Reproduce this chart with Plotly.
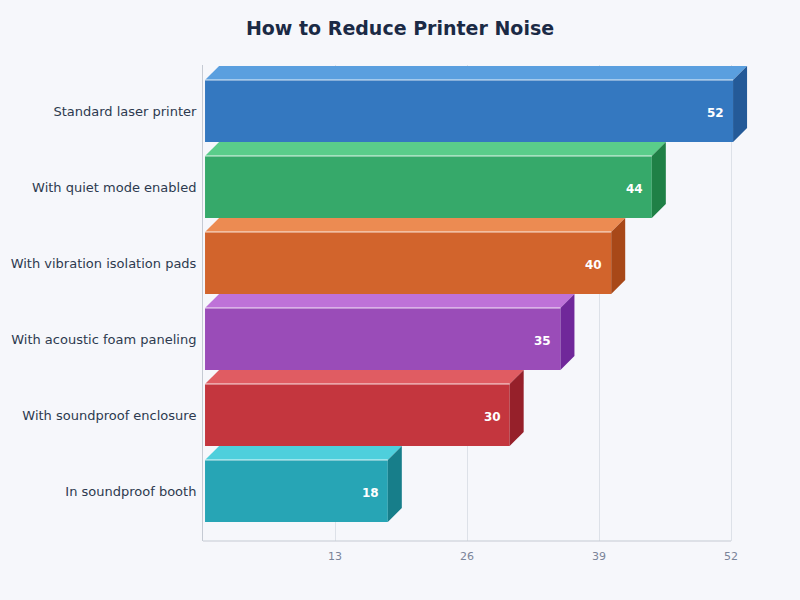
import plotly.graph_objects as go

# data (top to bottom as shown)
categories = [
    "Standard laser printer",
    "With quiet mode enabled",
    "With vibration isolation pads",
    "With acoustic foam paneling",
    "With soundproof enclosure",
    "In soundproof booth",
]
noise_db = [52, 44, 40, 35, 30, 18]
x_ticks = [13, 26, 39, 52]

front_colors = ["#3478c0", "#36a96a", "#d2642c", "#9a4cb8", "#c4363e", "#27a5b5"]
top_colors = ["#5a9fdf", "#5acd8a", "#ec8b52", "#be72d8", "#e05c62", "#4ecfdc"]
side_colors = ["#245a98", "#1f8046", "#a84818", "#70289a", "#96202a", "#177e8a"]

BG = "#f6f7fb"
BAR_W = 0.816     # bar thickness in category units
BASE = 0.2        # small gap between axis line and bars
DX = 1.38         # depth of 3d face, x units
DY = 0.184        # depth of 3d face, y units

n = len(categories)
ypos = [n - 1 - i for i in range(n)]

fig = go.Figure()
fig.add_trace(go.Bar(
    x=noise_db,
    y=ypos,
    base=BASE,
    orientation="h",
    width=BAR_W,
    marker=dict(color=front_colors, line=dict(width=0)),
    hoverinfo="skip",
))

shapes = []
annotations = []
for i, v in enumerate(noise_db):
    y = ypos[i]
    x0, x1 = BASE, BASE + v
    yt, yb = y + BAR_W / 2, y - BAR_W / 2
    # top face
    shapes.append(dict(
        type="path", xref="x", yref="y", layer="above",
        path=f"M {x0},{yt} L {x0 + DX},{yt + DY} L {x1 + DX},{yt + DY} L {x1},{yt} Z",
        fillcolor=top_colors[i], line=dict(width=0),
    ))
    # side face
    shapes.append(dict(
        type="path", xref="x", yref="y", layer="above",
        path=f"M {x1},{yt} L {x1 + DX},{yt + DY} L {x1 + DX},{yb + DY} L {x1},{yb} Z",
        fillcolor=side_colors[i], line=dict(width=0),
    ))
    # highlight edge
    shapes.append(dict(
        type="line", xref="x", yref="y", layer="above",
        x0=x0, x1=x1, y0=yt, y1=yt,
        line=dict(color="rgba(255,255,255,0.85)", width=1),
    ))
    annotations.append(dict(
        x=x1, y=y, xref="x", yref="y", text=f"<b>{v}</b>",
        showarrow=False, xanchor="right", yanchor="middle",
        xshift=-7, yshift=-2,
        font=dict(family="DejaVu Sans", size=12, color="white"),
    ))

fig.update_layout(
    width=800, height=600,
    paper_bgcolor=BG, plot_bgcolor=BG,
    margin=dict(l=203, r=37, t=65, b=59, autoexpand=False),
    title=dict(
        text="<b>How to Reduce Printer Noise</b>",
        x=0.5, xanchor="center", y=1 - 28 / 600, yanchor="middle",
        font=dict(family="DejaVu Sans", size=19, color="#1b2a45"),
    ),
    showlegend=False,
    shapes=shapes,
    annotations=annotations,
    xaxis=dict(
        range=[0, 55.15],
        tickvals=x_ticks,
        showgrid=True, gridcolor="#dde1e8", gridwidth=1,
        zeroline=False,
        showline=False,
        ticks="",
        automargin=False,
        tickfont=dict(family="DejaVu Sans", size=11, color="#7a8499"),
        ticklabelstandoff=7,
    ),
    yaxis=dict(
        range=[-0.658, 5.605],
        tickvals=ypos,
        ticktext=categories,
        showgrid=False,
        zeroline=False,
        showline=True, linecolor="#c5cad3", linewidth=1,
        ticks="",
        automargin=False,
        ticklabelstandoff=3,
        tickfont=dict(family="DejaVu Sans", size=13, color="#2d3a4f"),
    ),
)

# bottom axis line, only as wide as the last gridline
fig.add_shape(type="line", xref="x", yref="paper", x0=0, x1=52, y0=0, y1=0,
              line=dict(color="#c5cad3", width=1))

# page has a default body margin; remove it so the chart fills the window
fig.write_html("out.html", config={"displayModeBar": False},
               post_script="document.body.style.margin='0';")
